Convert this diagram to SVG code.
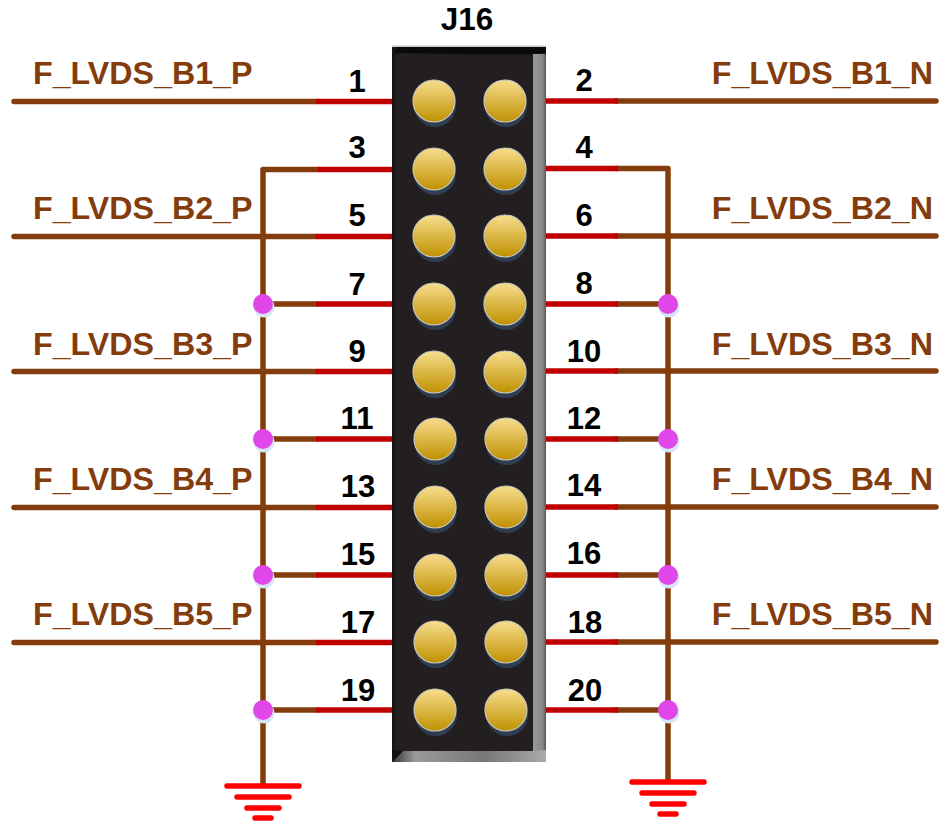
<svg xmlns="http://www.w3.org/2000/svg" xmlns:xlink="http://www.w3.org/1999/xlink" width="940" height="823" viewBox="0 0 940 823">
<style>
text{font-family:"Liberation Sans",Arial,sans-serif;font-weight:700}
.lbl{font-size:32.2px;fill:#843c0c}
.num{font-size:31px;fill:#000;text-anchor:middle}
.ttl{font-size:31.5px;fill:#000;text-anchor:middle}
.br{stroke:#843c0c;stroke-width:5.5;fill:none;stroke-linecap:round;stroke-linejoin:round}
.rd{stroke:#c00000;stroke-width:5.5;fill:none;stroke-linecap:butt}
.gnd{stroke:#f00;stroke-width:5.5;stroke-linecap:round}
.end{text-anchor:end}
</style>
<defs>
<linearGradient id="gold" x1="0" y1="0" x2="0" y2="1"><stop offset="0" stop-color="#f8de8e"/><stop offset="1" stop-color="#bf9000"/></linearGradient>
<linearGradient id="bot" x1="0" y1="0" x2="1" y2="0"><stop offset="0" stop-color="#333"/><stop offset="0.15" stop-color="#9a9a9a"/><stop offset="0.6" stop-color="#777"/><stop offset="1" stop-color="#aaa"/></linearGradient>
<linearGradient id="side" x1="0" y1="0" x2="1" y2="0"><stop offset="0" stop-color="#999"/><stop offset="0.75" stop-color="#888"/><stop offset="1" stop-color="#555"/></linearGradient>
<g id="pad"><circle cx="1" cy="5" r="21" fill="#2e3d50"/><circle r="21" fill="url(#gold)" stroke="#c9c9c0" stroke-width="1.2"/></g>
<g id="dot"><circle cx="1" cy="3" r="10.500" fill="#d6e4f5"/><circle r="10" fill="#e046e8"/></g>
</defs>
<g id="connectors">
<path class="br" d="M14 101.500H316M14 236.500H316M14 371.500H316M14 507.500H316M14 642.500H316"/>
<path class="br" d="M318 169.500H263V785M263 304H316M263 439H316M263 575H316M263 710H316"/>
<path class="br" d="M616 101H936M616 236H936M616 371H936M616 507H936M616 642H936"/>
<path class="br" d="M616 168.500H668V780M616 304H668M616 439H668M616 575H668M616 710H668"/>
<path class="rd" d="M316 101.500H393M318 169.500H393M316 236.500H393M316 304H393M316 371.500H393M316 439H393M316 507.500H393M316 575H393M316 642.500H393M316 710H393"/>
<path class="rd" d="M546 101H618M546 168.500H618M546 236H618M546 304H618M546 371H618M546 439H618M546 507H618M546 575H618M546 642H618M546 710H618"/>
</g>
<g id="J16">
<rect x="392" y="46" width="154" height="716" fill="#231f20"/>
<path d="M392 45.500H546V47H392Z" fill="#c8c8c8"/>
<path d="M396 47H546V53L533 54Q470 55 402 53L394 54Z" fill="#0a0a0a"/>
<rect x="392" y="48" width="3" height="714" fill="#161414"/>
<rect x="533" y="54" width="13" height="706" fill="url(#side)"/>
<path d="M392 762L403 751H533L546 750V762Z" fill="url(#bot)"/>
<path d="M392 750L403 751L394 760Z" fill="#111"/>
<text class="ttl" x="467" y="30">J16</text>
<use xlink:href="#pad" href="#pad" x="434" y="101"/><use xlink:href="#pad" href="#pad" x="505" y="101"/>
<use xlink:href="#pad" href="#pad" x="434" y="169"/><use xlink:href="#pad" href="#pad" x="505" y="169"/>
<use xlink:href="#pad" href="#pad" x="434" y="236"/><use xlink:href="#pad" href="#pad" x="505" y="236"/>
<use xlink:href="#pad" href="#pad" x="434" y="304"/><use xlink:href="#pad" href="#pad" x="505" y="304"/>
<use xlink:href="#pad" href="#pad" x="434" y="372"/><use xlink:href="#pad" href="#pad" x="505" y="372"/>
<use xlink:href="#pad" href="#pad" x="435" y="439"/><use xlink:href="#pad" href="#pad" x="506" y="439"/>
<use xlink:href="#pad" href="#pad" x="435" y="507"/><use xlink:href="#pad" href="#pad" x="506" y="507"/>
<use xlink:href="#pad" href="#pad" x="435" y="575"/><use xlink:href="#pad" href="#pad" x="506" y="575"/>
<use xlink:href="#pad" href="#pad" x="435" y="642"/><use xlink:href="#pad" href="#pad" x="506" y="642"/>
<use xlink:href="#pad" href="#pad" x="435" y="710"/><use xlink:href="#pad" href="#pad" x="506" y="710"/>
</g>
<g id="pin-numbers">
<text class="num" x="357" y="92">1</text><text class="num" x="584" y="91">2</text>
<text class="num" x="357" y="158">3</text><text class="num" x="584" y="158">4</text>
<text class="num" x="357" y="226">5</text><text class="num" x="584" y="226">6</text>
<text class="num" x="357" y="295">7</text><text class="num" x="584" y="294">8</text>
<text class="num" x="357" y="362">9</text><text class="num" x="584" y="362">10</text>
<text class="num" x="357" y="429">11</text><text class="num" x="584" y="429">12</text>
<text class="num" x="358" y="497">13</text><text class="num" x="584" y="496">14</text>
<text class="num" x="358" y="565">15</text><text class="num" x="584" y="564">16</text>
<text class="num" x="358" y="633">17</text><text class="num" x="585" y="633">18</text>
<text class="num" x="358" y="701">19</text><text class="num" x="585" y="701">20</text>
</g>
<g id="net-labels">
<text class="lbl" x="33" y="84">F_LVDS_B1_P</text><text class="lbl end" x="933" y="84">F_LVDS_B1_N</text>
<text class="lbl" x="33" y="219">F_LVDS_B2_P</text><text class="lbl end" x="933" y="219">F_LVDS_B2_N</text>
<text class="lbl" x="33" y="355">F_LVDS_B3_P</text><text class="lbl end" x="933" y="355">F_LVDS_B3_N</text>
<text class="lbl" x="33" y="490">F_LVDS_B4_P</text><text class="lbl end" x="933" y="490">F_LVDS_B4_N</text>
<text class="lbl" x="33" y="625">F_LVDS_B5_P</text><text class="lbl end" x="933" y="625">F_LVDS_B5_N</text>
</g>
<g id="junctions">
<use xlink:href="#dot" href="#dot" x="263" y="304"/><use xlink:href="#dot" href="#dot" x="263" y="439"/><use xlink:href="#dot" href="#dot" x="263" y="575"/><use xlink:href="#dot" href="#dot" x="263" y="710"/>
<use xlink:href="#dot" href="#dot" x="668" y="304"/><use xlink:href="#dot" href="#dot" x="668" y="439"/><use xlink:href="#dot" href="#dot" x="668" y="575"/><use xlink:href="#dot" href="#dot" x="668" y="710"/>
</g>
<g id="gnd-left" class="gnd"><path d="M227 786H299M237 797H289M247 808H279M255 818H271"/></g>
<g id="gnd-right" class="gnd"><path d="M632 782H704M642 793H694M652 804H684M660 814H676"/></g>
</svg>
